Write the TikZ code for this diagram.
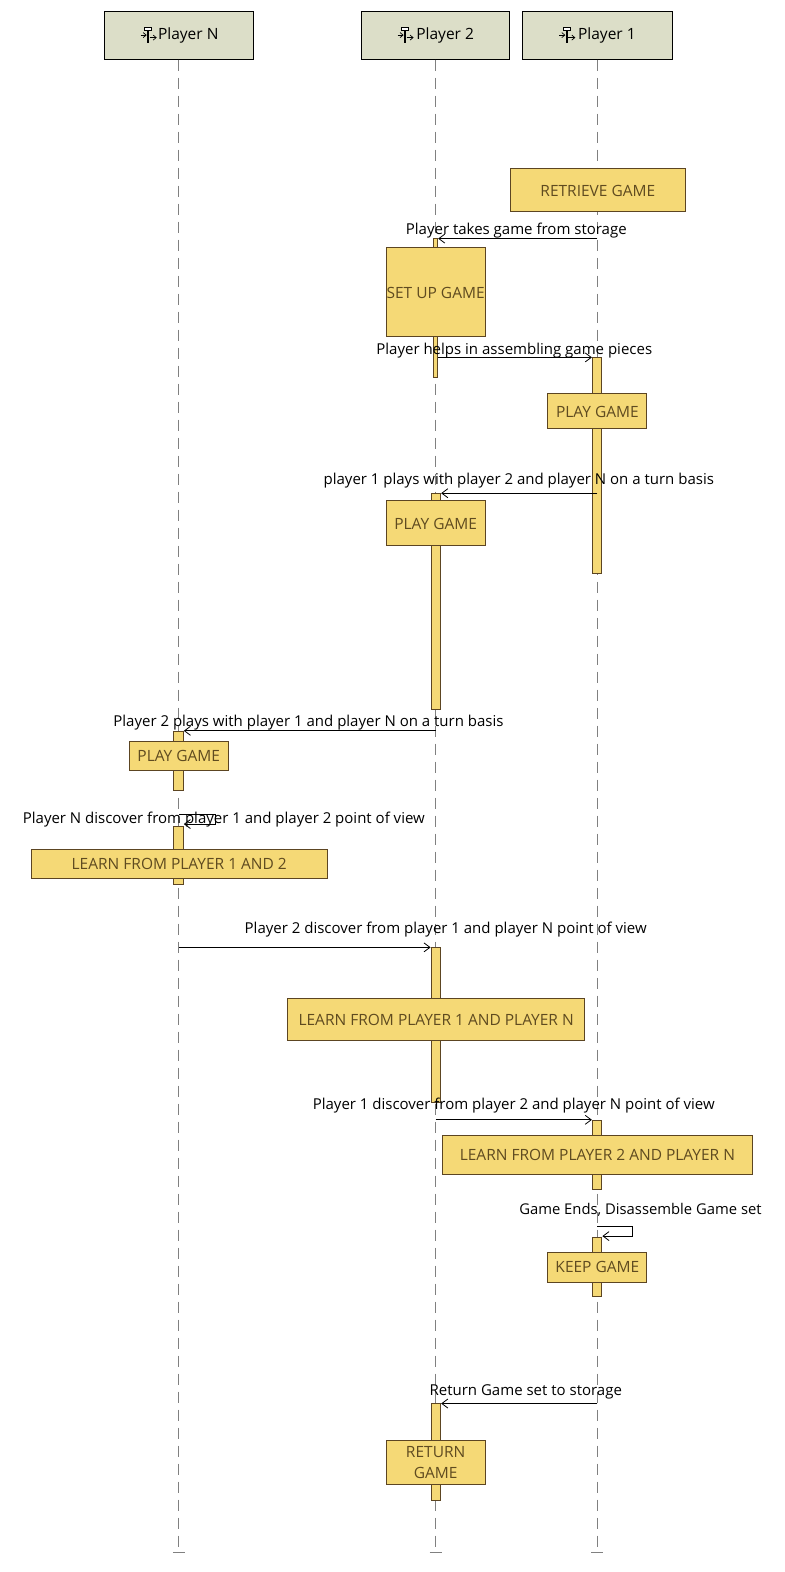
\documentclass[tikz,border=0pt]{standalone}
\usepackage{fontspec}
\setmainfont{Open Sans}
\usetikzlibrary{arrows.meta}
\definecolor{headfill}{HTML}{DCDEC8}
\definecolor{actfill}{HTML}{F5D976}
\definecolor{actline}{HTML}{5C4522}
\definecolor{acttext}{HTML}{5F4B20}
\definecolor{lifec}{HTML}{808080}
\tikzset{
  x=1.0015pt,y=-1.0025pt,
  headbox/.style={draw=black,line width=1pt,fill=headfill,inner sep=0pt,font=\fontsize{15.5}{18}\selectfont,text=black},
  taskbox/.style={draw=actline,line width=1pt,fill=actfill,inner sep=0pt,align=center,font=\fontsize{15.5}{21}\selectfont,text=acttext},
  actbar/.style={draw=actline,line width=1pt,fill=actfill,inner sep=0pt},
  lifeline/.style={draw=lifec,line width=1pt,dash pattern=on 11pt off 7pt},
  endcap/.style={draw=lifec,line width=1pt},
  msg/.style={draw=black,line width=1pt,-{Straight Barb[length=6pt,width=9pt,line width=.8pt]}},
  msglabel/.style={inner sep=0pt,text=black,font=\fontsize{15}{18}\selectfont},
}
\newcommand{\rectnode}[7]{% style,name,x1,y1,x2,y2,text
  \pgfmathsetmacro{\rcx}{(#3+#5)/2}\pgfmathsetmacro{\rcy}{(#4+#6)/2}
  \pgfmathsetmacro{\rw}{(#5-#3)*1.0015}\pgfmathsetmacro{\rh}{(#6-#4)*1.0025}
  \node[#1,minimum width=\rw pt,minimum height=\rh pt] (#2) at (\rcx,\rcy) {#7};}
\newcommand{\lowertext}{\rule{0pt}{12.8pt}}
\newcommand{\lifeicon}[1]{%
  \begin{scope}[shift={(#1,0)}]
    \draw[line width=1pt,fill=white] (-34,27) rectangle (-27,30);
    \draw[line width=2.2pt] (-30.5,30) -- (-30.5,43);
    \draw[line width=1pt,-{Straight Barb[length=3pt,width=5pt,line width=.7pt]}] (-38,35) -- (-32,35);
    \draw[line width=1pt,-{Straight Barb[length=3pt,width=5pt,line width=.7pt]}] (-29,37.5) -- (-22,37.5);
  \end{scope}}
\begin{document}
\begin{tikzpicture}
\useasboundingbox (0,0) rectangle (783.82,1568.08);
% heads
\rectnode{headbox}{hN}{104}{11}{253}{59}{\hspace*{19pt}Player N}
\rectnode{headbox}{hB}{361}{11}{509}{59}{\hspace*{19pt}Player 2}
\rectnode{headbox}{hA}{522}{11}{671}{59}{\hspace*{19pt}Player 1}
\lifeicon{178.5}\lifeicon{435}\lifeicon{596.5}
% lifelines
\coordinate (eN) at (hN.south |- 0,1549);
\coordinate (eB) at (hB.south |- 0,1549);
\coordinate (eA) at (hA.south |- 0,1549);
\draw[lifeline] (hN.south) -- (eN);
\draw[lifeline] (hB.south) -- (eB);
\draw[lifeline] (hA.south) -- (eA);
\draw[endcap] ([xshift=-6pt]eN) -- ([xshift=6pt]eN);
\draw[endcap] ([xshift=-6pt]eB) -- ([xshift=6pt]eB);
\draw[endcap] ([xshift=-6pt]eA) -- ([xshift=6pt]eA);
% activation bars
\rectnode{actbar}{b1}{433}{238}{437}{377}{}
\rectnode{actbar}{a1}{591.5}{357}{601}{572}{}
\rectnode{actbar}{b2}{430.5}{492}{440}{708}{}
\rectnode{actbar}{n1}{173.5}{730}{183}{789}{}
\rectnode{actbar}{n2}{173.5}{824}{183}{882}{}
\rectnode{actbar}{b3}{430.5}{945}{440}{1100}{}
\rectnode{actbar}{a2}{591.5}{1118}{601}{1187}{}
\rectnode{actbar}{a3}{591.5}{1234}{601}{1293}{}
\rectnode{actbar}{b4}{430.5}{1400}{440}{1497}{}
% task boxes
\rectnode{taskbox}{t1}{510}{168}{684}{211}{\lowertext RETRIEVE GAME}
\rectnode{taskbox}{t2}{385.5}{247}{484.5}{336}{\lowertext SET UP GAME}
\rectnode{taskbox}{t3}{547}{393}{646}{427}{\lowertext PLAY GAME}
\rectnode{taskbox}{t4}{385.5}{499}{484.5}{544}{\lowertext PLAY GAME}
\rectnode{taskbox}{t5}{129}{740}{228}{769}{PLAY GAME}
\rectnode{taskbox}{t6}{31}{847}{327}{876}{\lowertext LEARN FROM PLAYER 1 AND 2}
\rectnode{taskbox}{t7}{287}{996}{584}{1038}{\lowertext LEARN FROM PLAYER 1 AND PLAYER N}
\rectnode{taskbox}{t8}{442}{1133}{751}{1172}{LEARN FROM PLAYER 2 AND PLAYER N}
\rectnode{taskbox}{t9}{547}{1249}{646}{1279}{KEEP GAME}
\rectnode{taskbox}{t10}{385.5}{1437}{484.5}{1481}{RETURN\\GAME}
% messages
\coordinate (m1s) at (hA.south |- 0,238);
\draw[msg] (m1s) -- (b1.east |- m1s);
\coordinate (m2e) at (a1.north west);
\draw[msg] (b1.east |- m2e) -- (m2e);
\coordinate (m3s) at (hA.south |- 0,492);
\draw[msg] (m3s) -- (b2.east |- m3s);
\coordinate (m4s) at (hB.south |- 0,729);
\draw[msg] (m4s) -- (n1.east |- m4s);
\coordinate (m5a) at (hN.south |- 0,812);
\coordinate (m5b) at (215,812);
\coordinate (m5c) at (215,822);
\draw[msg] (m5a) -- (m5b) -- (m5c) -- (n2.east |- m5c);
\coordinate (m6s) at (hN.south |- 0,945);
\draw[msg] (m6s) -- (b3.west |- m6s);
\coordinate (m7s) at (hB.south |- 0,1117);
\draw[msg] (m7s) -- (a2.west |- m7s);
\coordinate (m8a) at (hA.south |- 0,1223);
\coordinate (m8b) at (632,1223);
\coordinate (m8c) at (632,1233);
\draw[msg] (m8a) -- (m8b) -- (m8c) -- (a3.east |- m8c);
\coordinate (m9s) at (hA.south |- 0,1400);
\draw[msg] (m9s) -- (b4.east |- m9s);
% labels
\node[msglabel] (l1) at (515.5,230.3) {Player takes game from storage};
\node[msglabel] (l2) at (513.5,349.3) {Player helps in assembling game pieces};
\node[msglabel] (l3) at (518,479.3) {player 1 plays with player 2 and player N on a turn basis};
\node[msglabel] (l4) at (308,721) {Player 2 plays with player 1 and player N on a turn basis};
\node[msglabel] (l5) at (223.5,818) {Player N discover from player 1 and player 2 point of view};
\node[msglabel] (l6) at (445,927) {Player 2 discover from player 1 and player N point of view};
\node[msglabel] (l7) at (513,1103) {Player 1 discover from player 2 and player N point of view};
\node[msglabel,font=\fontsize{14.8}{18}\selectfont] (l8) at (639.5,1207) {Game Ends, Disassemble Game set};
\node[msglabel] (l9) at (525,1388) {Return Game set to storage};
\end{tikzpicture}
\end{document}
